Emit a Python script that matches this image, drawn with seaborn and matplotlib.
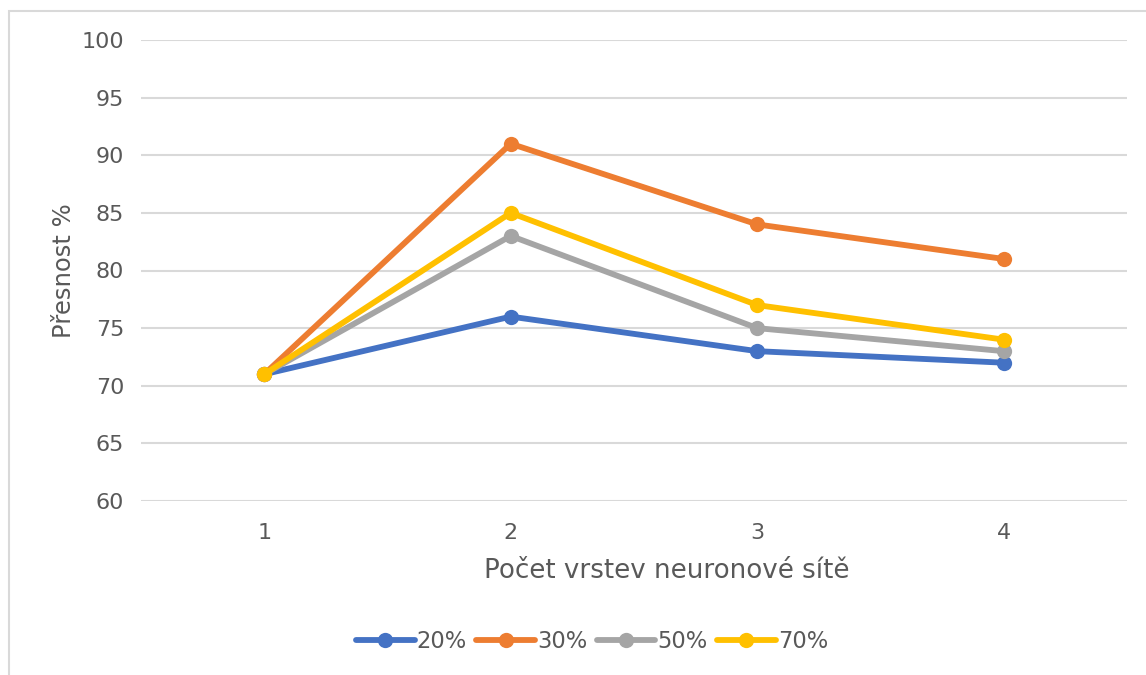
import matplotlib
matplotlib.use("Agg")
import matplotlib.pyplot as plt
from matplotlib.patches import Rectangle
from matplotlib.lines import Line2D
import seaborn as sns
import pandas as pd

# Accuracy (%) by number of network layers, for each training share
layers = [1, 2, 3, 4]
series_names = ["20%", "30%", "50%", "70%"]
acc_20 = [71, 76, 73, 72]
acc_30 = [71, 91, 84, 81]
acc_50 = [71, 83, 75, 73]
acc_70 = [71, 85, 77, 74]
y_ticks = [60, 65, 70, 75, 80, 85, 90, 95, 100]

colors = ["#4472C4", "#ED7D31", "#A5A5A5", "#FFC000"]
text_color = "#595959"
grid_color = "#D9D9D9"

df = pd.DataFrame({
    "layers": layers * 4,
    "acc": acc_20 + acc_30 + acc_50 + acc_70,
    "share": [n for n in series_names for _ in layers],
})

sns.set_theme(style="white")
plt.rcParams["font.family"] = ["DejaVu Sans"]

fig = plt.figure(figsize=(11.46, 6.75), dpi=100)
ax = fig.add_axes([141 / 1146, 1 - 501 / 675, (1127 - 141) / 1146, (501 - 40) / 675])

for i, name in enumerate(series_names):
    sub = df[df["share"] == name]
    sns.lineplot(data=sub, x="layers", y="acc", ax=ax, color=colors[i],
                 linewidth=4.2, marker="o", markersize=11, markeredgewidth=0,
                 legend=False, zorder=3 + i)

ax.set_xlim(0.5, 4.5)
ax.set_ylim(60, 100)
ax.set_yticks(y_ticks)
ax.set_xticks(layers)
ax.set_xticklabels([str(v) for v in layers])
ax.yaxis.grid(True, color=grid_color, linewidth=1.5)
ax.set_axisbelow(True)
for s in ax.spines.values():
    s.set_visible(False)
ax.tick_params(axis="both", length=0, labelsize=16, colors=text_color)
ax.tick_params(axis="y", pad=12)
ax.tick_params(axis="x", pad=16)

ax.set_xlabel("Počet vrstev neuronové sítě", fontsize=18.8, color=text_color, labelpad=11)
ax.xaxis.label.set_x((667 - 141) / 986)
ax.set_ylabel("Přesnost %", fontsize=17.5, color=text_color, labelpad=4)

handles = [Line2D([0], [0], color=c, linewidth=4.2, marker="o", markersize=11,
                  markeredgewidth=0) for c in colors]
fig.legend(handles, series_names, loc="center", bbox_to_anchor=(592 / 1146, 1 - 641 / 675),
           ncol=4, frameon=False, fontsize=16.3, labelcolor=text_color,
           handlelength=2.6, handletextpad=0.1, columnspacing=0.4)

# light chart-area border
fig.patches.append(Rectangle((9 / 1146, -0.1), 1.2, 1 - 11 / 675 + 0.1,
                             transform=fig.transFigure, fill=False,
                             edgecolor=grid_color, linewidth=1.5))

fig.savefig("out.png", dpi=100)
